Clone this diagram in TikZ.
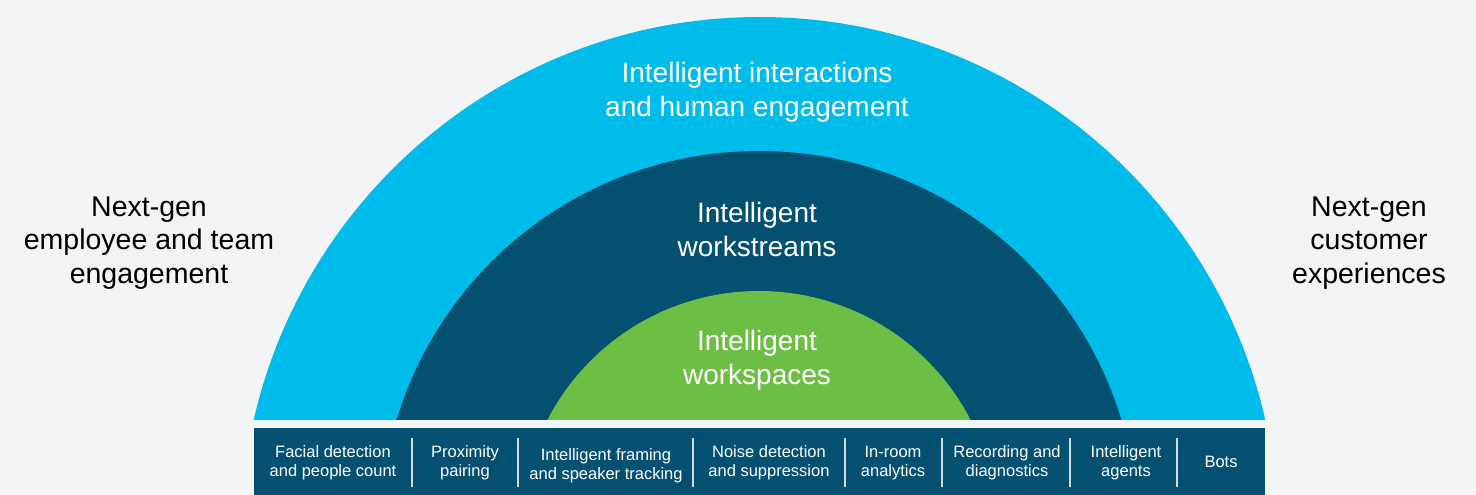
\documentclass[tikz,border=0pt]{standalone}
\usepackage{fontspec}
\setmainfont{Liberation Sans}
\usetikzlibrary{positioning}

\definecolor{bgcol}{HTML}{F2F4F6}
\definecolor{skyblue}{HTML}{00BCEB}
\definecolor{deepblue}{HTML}{045070}
\definecolor{leafgreen}{HTML}{6CBE45}

\tikzset{
  bigtxt/.style={align=center, font=\fontsize{28}{34}\selectfont, inner sep=0pt},
  sidetxt/.style={align=center, font=\fontsize{28.5}{33.5}\selectfont, text=black, inner sep=0pt},
  celltxt/.style={align=center, font=\fontsize{16.5}{19}\selectfont, text=white, inner sep=0pt},
  sepline/.style={draw=white!80!deepblue, line width=1.3pt}
}

\begin{document}
\begin{tikzpicture}[x=1pt, y=-1pt]
\fill[bgcol] (0,0) rectangle (1476,495);
\useasboundingbox (0,0) rectangle (1476,495);

% the three arcs
\begin{scope}
\clip (0,0) rectangle (1476,419);
\fill[skyblue]   (759.5,535.8) circle (518.8pt);
\fill[deepblue]  (759,529.5)   circle (378.5pt);
\fill[leafgreen] (759,529)     circle (238pt);
\end{scope}

\node[bigtxt, text=white] (outer) at (757,92)  {Intelligent interactions\\and human engagement};
\node[bigtxt, text=white] (middle) at (757,229) {Intelligent\\workstreams};
\node[bigtxt, text=white] (inner) at (757,360) {Intelligent\\workspaces};

\node[sidetxt] (left)  at (149,243) {Next-gen\\employee and team\\engagement};
\node[sidetxt] (right) at (1369,243) {Next-gen\\customer\\experiences};

% bottom bar
\fill[deepblue] (254,428) rectangle (1265,495);
\foreach \x in {412,518,693,845,942,1070,1177}
  \draw[sepline] (\x,438) -- (\x,487);

\node[celltxt] (c1) at (333,463)  {Facial detection\\and people count};
\node[celltxt] (c2) at (465,463)  {Proximity\\pairing};
\node[celltxt] (c3) at (606,466)  {Intelligent framing\\and speaker tracking};
\node[celltxt] (c4) at (769,463)  {Noise detection\\and suppression};
\node[celltxt] (c5) at (893,463)  {In-room\\analytics};
\node[celltxt] (c6) at (1007,463) {Recording and\\diagnostics};
\node[celltxt] (c7) at (1126,463) {Intelligent\\agents};
\node[celltxt] (c8) at (1221,462) {Bots};
\end{tikzpicture}
\end{document}
